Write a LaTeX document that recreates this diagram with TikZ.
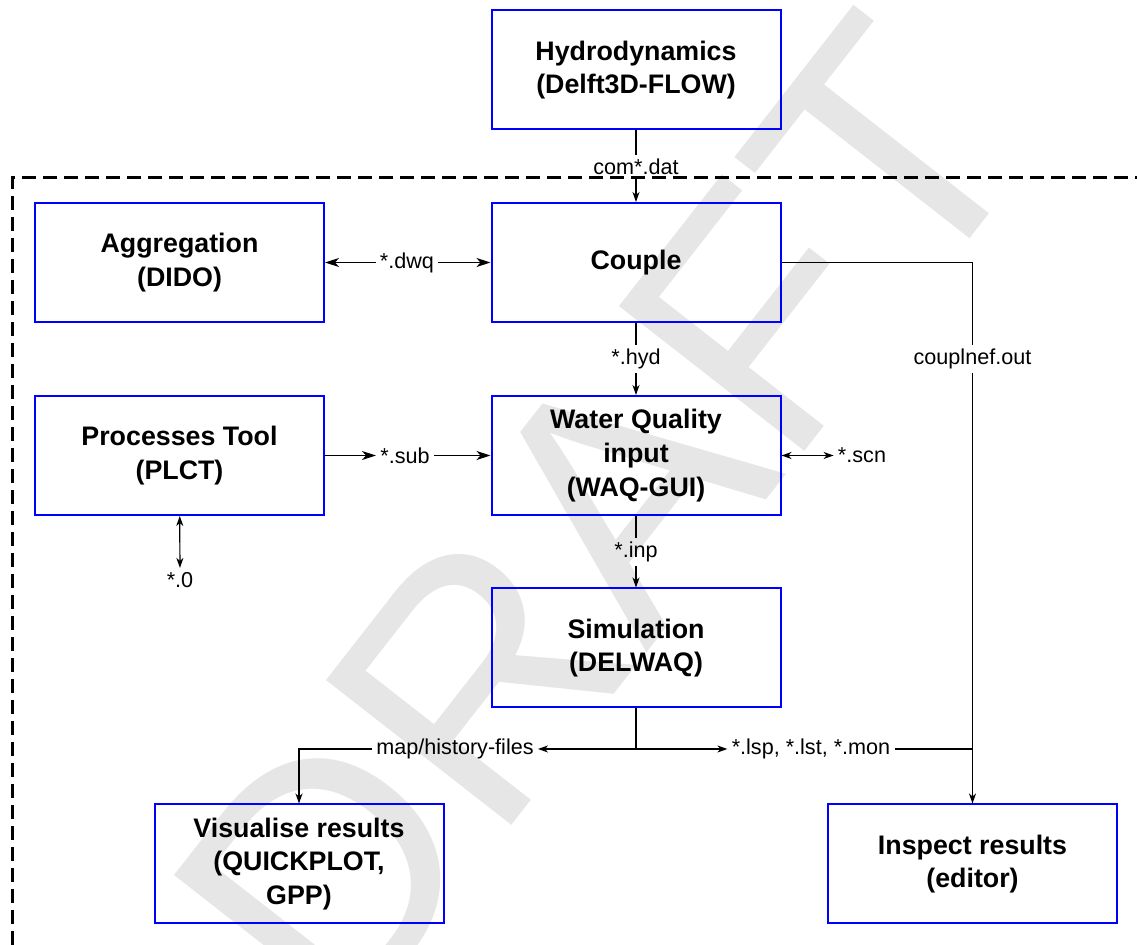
\documentclass[tikz,border=0pt]{standalone}
\usepackage{fontspec}
\setmainfont{Liberation Sans}
\usetikzlibrary{arrows.meta, positioning, calc}
\definecolor{dblue}{HTML}{0000FF}
\definecolor{wmgray}{HTML}{E6E6E6}

\begin{document}
\begin{tikzpicture}[
  x=0.5pt, y=-0.5pt,
  every node/.style={font=\fontsize{10.8}{13}\selectfont},
  toolbox/.style={rectangle, draw=dblue, line width=1pt, minimum width=144.5pt, minimum height=59.5pt, inner sep=0pt, align=center, font=\fontsize{13.4}{16.8}\selectfont\bfseries},
  flabel/.style={inner sep=2pt},
  link/.style={line width=0.6pt},
  tip/.style={-{Stealth[length=5pt, width=3.5pt, inset=1.5pt]}},
  bigtip/.style={-{Stealth[length=7pt, width=4.5pt, inset=2pt]}},
  twotip/.style={{Stealth[length=5pt, width=3.5pt, inset=1.5pt]}-{Stealth[length=5pt, width=3.5pt, inset=1.5pt]}},
  frame/.style={line width=1.5pt, dash pattern=on 7pt off 3.5pt},
]
\useasboundingbox (0,0) rectangle (1137,945);
\clip (0,0) rectangle (1137,945);

% Watermark
\node[text=wmgray, rotate=52, inner sep=0pt, font=\fontsize{171}{180}\selectfont] (wm) at (601,521) {DRAFT};

% Frame
\draw[frame] (12,945) -- (12,178) -- (1137,178);

% Tools
\node[toolbox] (hydro) at (636,70) {Hydrodynamics\\(Delft3D-FLOW)};
\node[toolbox] (agg) at (179.5,262.5) {Aggregation\\(DIDO)};
\node[toolbox] (couple) at (636,262.5) {Couple};
\node[toolbox] (proc) at (179.5,455.5) {Processes Tool\\(PLCT)};
\node[toolbox] (waq) at (636,455.5) {Water Quality\\input\\(WAQ-GUI)};
\node[toolbox] (sim) at (636,648) {Simulation\\(DELWAQ)};
\node[toolbox] (vis) at (299,864) {Visualise results\\(QUICKPLOT,\\GPP)};
\node[toolbox] (insp) at (972.5,864) {Inspect results\\(editor)};

% File labels
\node[flabel] (comdat) at (636,167) {com*.dat};
\node[flabel] (dwq) at (407,262.5) {*.dwq};
\node[flabel] (hyd) at (636,359) {*.hyd};
\node[flabel] (couplnef) at (972.5,359) {couplnef.out};
\node[flabel] (sub) at (405,455.5) {*.sub};
\node[flabel] (scn) at (862,455.5) {*.scn};
\node[flabel] (obj) at (180,580) {*.0};
\node[flabel] (inp) at (636,552) {*.inp};
\node[flabel] (maphist) at (455,749) {map/history-files};
\node[flabel] (lsp) at (811,749) {*.lsp, *.lst, *.mon};
\coordinate (split) at (636,749);

% Connections
\draw[link] (hydro) -- (comdat);
\draw[link, tip] (comdat) -- (couple);
\draw[link, bigtip] (dwq) -- (agg);
\draw[link, bigtip] (dwq) -- (couple);
\draw[link] (couple) -- (hyd);
\draw[link, tip] (hyd) -- (waq);
\draw[link] (couple.east) -| (couplnef.north);
\draw[link, tip] (couplnef) -- (insp);
\draw[link, bigtip] (proc) -- (sub);
\draw[link, bigtip] (sub) -- (waq);
\draw[link, twotip] (waq) -- (scn);
\draw[link, twotip] (proc) -- (obj);
\draw[link] (waq) -- (inp);
\draw[link, tip] (inp) -- (sim);
\draw[link] (sim) -- (split);
\draw[link, tip] (split) -- (maphist);
\draw[link, tip] (split) -- (lsp);
\draw[link, tip] (maphist.west) -| (vis.north);
\draw[link] (lsp) -- (lsp -| insp.north);

\end{tikzpicture}
\end{document}
